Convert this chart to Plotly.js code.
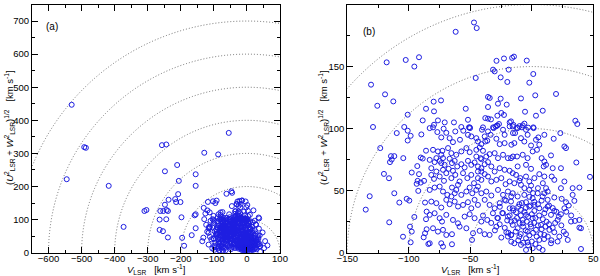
<!DOCTYPE html>
<html>
<head>
<meta charset="utf-8">
<script src="https://cdn.plot.ly/plotly-3.0.1.min.js"></script>
<style>html,body{margin:0;padding:0;background:#fff;}#chart{width:600px;height:276px;}</style>
</head>
<body>
<div id="chart"></div>
<script>
// ---- Data: V_LSR (km/s) and (U^2+W^2)^(1/2) (km/s) ----
// halo / high-velocity stars (visible in panel a)
const haloV = [-530,-492,-487,-545,-418,-373,-310,-304,-257,-244,-55,-129,-87,-211,-248,-155,-206,-155,-208,-237,-217,-214,-201,-248,-262,-253,-239,-243,-264,-244,-198,-264,-254,-239,-196,-190,-167,-158,-155,-155,62,55,52];
const haloW = [447,319,317,222,202,78,126,129,325,327,362,302,297,265,246,237,217,202,177,160,162,153,153,145,126,126,126,129,100,101,107,69,65,46,45,21,53,113,116,74,22,35,14];
// upper part of panel b (UW >= 100)
const upperV = [-118,-102.5,-91.7,-95.5,-130.7,-119.3,-125.6,-112.6,-86,-100.9,-88.7,-129.1,-103.7,
  -47,-44.8,-61.9,-28.7,-22.6,-16,-14.5,-4.1,
  -31.5,-30.2,-18.8,-25.3,-19.9,-45.6,-79.8,-73.8,-79.5,-53.7,-35.6,-34.2,-25.3,-35.6,-27.5,-20.4,-37.8,-35.6,-33.2,-28,-24.8,-22.6,-18,-16.9,-26.7,-28.3,-31.5,-29.4,-51.9,-76.3,-70.8,-63.3,-79.5,-80.3,-57.3,-51.1,-39.7,
  1.2,-2,-8.8,2.8,19.7,-5.5,3.4,8.9,35.4,37,-15,-10,-6,-12,-3,-8,1.2,-50.2];
const upperW = [153.4,155.3,157.5,150,135.4,127.6,118.4,121.9,116,111.2,106.6,101.3,101.3,
  185.5,181,178,154.6,156.5,157,158,154.8,
  147.5,146.1,147.5,141.3,137.6,140.8,121.7,122.7,113.9,116,125.5,124.7,124.1,117.4,120.1,119.3,108.5,108,107.4,110.4,112.6,111,105,105.8,103.7,102.3,101,101.7,107.1,106.6,105,105,103.1,101,101.3,101,101,
  144,137,124.3,126.8,127.9,113.6,110.4,114.4,106.3,103.7,103,102,104,100.5,100.8,101,101,100.4];
// left part of panel b (V < -84)
const leftV = [-100.9,-98.5,-109.8,-89.8,-100.9,-123.2,-114.5,-111.8,-115.3,-113.9,-104.5,-90.3,-88.7,-86,-93.1,-120.2,-116.1,-97.6,-91.7,-92.8,-90.3,-87.6,-93.6,-92.3,-111.8,-131.8,-101.7,-99.6,-107.7,-86.8,-135,-95.5,-85.5,-115.9,-86,-99,-97.6,-85.5,-86.8,-87.9,-104.7,-98.5,-84.1];
const leftW = [98.3,94.2,96.4,95.3,90.4,84.3,77.8,77.8,73,75.1,76.2,76.7,75.9,82.2,69.8,63.5,60,64.6,63.3,57.9,56.5,57.9,55.5,49.8,47.9,45.5,43.4,42,40.4,40.4,34.7,28.8,33.1,24.5,27,21,17,18.9,15.7,12.4,12.9,8.4,7];
// middle part of panel b (-84 < V < -15)
const midV = [-83.0,-76.8,-71.7,-69.5,-62.2,-55.7,-50.5,-40.5,-35.6,-31.0,-28.0,-23.4,-18.0,-49.2,-51.9,-45.1,-38.3,-33.5,-22.1,-15.3,
  -66.8,-64.1,-58.4,-73.6,-37.8,-36.2,-28.8,-26.1,-22.1,-16.6,-43.8,-41.0,
  -80.3,-76.3,-72.7,-73.6,-72.2,-68.1,-65.4,-61.4,-57.3,-53.2,-50.5,-45.1,-42.4,-39.7,-37.0,-34.3,-30.2,-27.5,-23.4,-19.4,-15.3,-41.6,-41.0,-45.1,
  -83.0,-79.0,-77.6,-74.9,-73.6,-70.9,-66.8,-64.9,-62.7,-60.6,-57.3,-54.6,-51.9,-49.2,-46.5,-43.8,-41.0,-38.3,-35.6,-32.9,-30.2,-26.1,-22.1,-18.0,-81.7,-77.6,-72.2,-67.6,-64.1,
  -81.7,-79.5,-74.9,-71.4,-69.5,-65.4,-62.2,-58.7,-55.9,-52.4,-49.2,-47.0,-43.8,-41.0,-38.3,-35.6,-32.9,-28.8,-24.8,-21.3,-18.0,-43.8,-41.0,
  -83.0,-79.0,-74.9,-72.2,-68.7,-64.9,-61.4,-60.0,-57.3,-53.2,-50.5,-48.4,-45.1,-43.8,-41.0,-37.0,-32.9,-27.5,-23.4,-19.4,-16.7,-62.7,-65.4,
  -81.7,-77.6,-73.6,-69.5,-66.8,-62.7,-60.0,-55.9,-51.9,-49.2,-46.5,-43.8,-38.3,-34.3,-30.2,-26.1,-22.1,-18.0,
  -83.0,-79.0,-74.9,-73.0,-69.5,-64.1,-60.0,-54.6,-50.5,-46.5,-39.7,-36.2,-31.6,-27.5,-23.4,-19.4,-16.7,-41.0,-26.1,
  -80.3,-76.3,-72.2,-69.5,-64.9,-58.7,-53.2,-47.8,-42.4,-38.3,-34.3,-28.8,-24.8,-20.7,-16.7,
  -83.0,-73.6,-72.2,-64.9,-48.6,-19.4,-16.7];
const midW = [100.4,97.2,99.9,96.6,97.7,98.3,101.0,99.1,97.7,100.4,102.6,99.1,101.8,93.7,95.0,92.3,93.7,95.0,95.0,96.4,
  92.3,89.1,91.0,92.9,89.6,90.2,91.8,87.5,88.3,87.0,89.6,87.5,
  82.9,81.6,82.1,78.9,76.2,84.3,80.2,78.9,81.6,84.3,81.0,82.9,84.8,82.1,77.5,79.4,80.2,76.2,78.9,76.2,77.5,76.2,75.4,77.5,
  74.8,73.0,76.2,74.0,72.2,70.8,75.7,72.2,74.0,69.5,71.3,68.7,74.0,70.8,72.7,69.5,68.1,71.3,73.0,69.5,65.4,68.1,66.8,66.0,68.1,65.4,66.8,67.6,66.0,
  62.7,59.5,61.4,57.9,64.1,60.1,62.7,57.4,64.1,60.1,62.7,56.0,60.1,58.7,63.3,61.4,57.4,58.7,60.1,55.2,57.4,65.4,65.4,
  50.6,52.5,53.3,49.3,46.6,52.5,50.6,54.7,46.6,49.3,52.5,47.9,50.6,53.3,47.9,49.3,46.1,50.6,46.6,49.3,45.3,47.9,45.3,
  41.2,39.9,36.4,42.6,39.1,41.2,37.2,38.5,40.7,35.8,42.6,38.5,42.6,38.5,35.8,39.9,42.6,35.8,
  30.5,31.8,27.8,25.1,30.5,26.4,23.7,29.1,31.0,27.8,29.9,26.4,31.8,27.8,31.8,29.1,25.1,25.1,22.9,
  19.7,17.0,18.4,14.3,14.9,21.0,19.7,15.7,17.6,14.9,14.3,21.0,12.2,16.5,14.3,
  7.6,7.6,4.9,6.8,10.3,13.0,8.9];
// right part of panel b (V > -17)
const rightV = [-15.5,-11.5,-7.4,-4.7,1.5,-13.6,-8.8,-3.4,3.4,5.3,10.2,17.8,23.2,26.5,27.8,-14.2,-6.1,-0.6,6.1,
  -16.9,-12.0,-7.4,-3.4,0.7,4.2,8.0,10.2,11.6,9.7,15.6,17.0,-11.5,-4.7,-0.6,36.2,47.3,23.7,-15.5,
  -12.8,-9.3,-4.7,-2.0,2.1,6.1,10.2,16.2,18.3,26.5,-14.2,-8.8,-0.6,11.6,12.9,23.7,33.2,38.7,
  -15.5,-11.5,-6.1,-2.0,0.7,4.8,8.8,10.2,12.9,18.3,24.3,27.8,33.2,34.6,-16.9,-10.1,-4.7,2.1,
  -15.5,-12.8,-8.8,-4.7,-2.0,2.1,6.1,10.2,12.9,15.6,18.3,23.7,26.5,31.9,35.1,38.7,40.0,38.7,21.0,-7.4,0.7,
  -15.5,-11.5,-7.4,-3.4,-0.6,3.4,7.5,10.2,14.3,18.3,22.4,27.8,29.2,-16.9,-10.1,-4.7,
  -14.2,-8.8,-3.4,0.7,6.1,15.6,21.0,40.0,8.8,-4.7];
const rightW = [101.8,100.4,102.6,99.1,100.4,96.4,92.3,95.0,91.0,92.9,95.0,91.8,96.4,85.6,84.3,88.3,89.6,86.4,87.0,
  76.2,77.5,78.9,76.2,81.6,82.9,76.2,73.5,70.8,69.5,78.4,68.1,69.5,70.8,67.6,72.7,61.1,68.1,64.1,
  62.7,60.1,61.4,57.4,60.1,63.3,61.4,61.4,58.7,57.4,56.0,54.7,54.1,52.0,49.3,52.0,52.0,52.5,
  47.9,45.3,46.6,50.6,43.9,47.9,45.3,47.9,42.6,44.5,43.4,40.7,46.6,41.8,41.2,39.1,40.7,38.5,
  35.8,32.6,34.5,30.5,37.2,33.7,35.8,31.8,37.2,30.5,33.7,31.0,35.8,25.1,25.6,26.4,19.7,20.2,26.4,26.4,27.8,
  22.4,19.7,23.7,17.0,21.0,18.4,22.4,14.3,18.4,16.5,13.0,14.9,10.3,14.3,13.0,11.6,
  7.6,6.3,8.4,3.6,10.3,7.6,9.0,3.0,2.2,2.2];
// dense core of the thin disc
const coreV = [-12,-9,-6,-3,0,3,6,9,12,-14,-10,-7,-4,-1,2,5,8,11,14,-13,-9,-5,-2,1,4,7,10,13,16,-11,-7,-3,0,3,6,
  -15,-11,-8,-5,-1,2,5,8,11,14,17,20,22,19,17,24,26,-18,-20,-22,-19,-24,-26,-21,-28,-30,-33,28,30,32,-2,1,5,-6,9,-10];
const coreW = [28,30,33,29,31,28,30,27,25,26,24,21,25,23,24,22,19,21,23,17,15,18,14,16,13,15,11,13,10,10,8,6,9,7,4,
  34,37,40,36,38,41,39,42,35,38,36,33,29,24,20,22,17,30,26,20,16,32,37,42,28,18,24,33,38,30,45,48,52,52,56,58];

// velocity circles (dotted)
const circlesA = [100,200,300,400,500,600,700];
const circlesB = [50,100,150,200];

// tick labels
const ticksAx = [-600,-500,-400,-300,-200,-100,0,100];
const ticksAy = [0,100,200,300,400,500,600,700];
const ticksBx = [-150,-100,-50,0,50];
const ticksBy = [0,50,100,150,200];

const allV = [].concat(haloV, upperV, leftV, midV, rightV, coreV);
const allW = [].concat(haloW, upperW, leftW, midW, rightW, coreW);

const FONT = 'Liberation Sans, Arial, sans-serif';
const mk = {symbol:'circle-open', size:5, color:'rgb(30,30,225)', line:{width:1, color:'rgb(30,30,225)'}};

const traces = [
  {x: allV, y: allW, xaxis:'x', yaxis:'y', type:'scatter', mode:'markers', marker: mk, hoverinfo:'skip'},
  {x: allV, y: allW, xaxis:'x2', yaxis:'y2', type:'scatter', mode:'markers', marker: mk, hoverinfo:'skip'}
];

function circleShapes(radii, xr, yr){
  return radii.map(r => ({type:'circle', xref:xr, yref:yr, x0:-r, x1:r, y0:-r, y1:r,
    line:{color:'rgb(80,80,80)', width:0.8, dash:'1px,2px'}, layer:'below'}));
}

function axis(extra){
  return Object.assign({
    ticks:'inside', ticklen:6, tickwidth:1, tickcolor:'black',
    mirror:'allticks', showline:true, linecolor:'black', linewidth:1,
    showgrid:false, zeroline:false, tickmode:'array',
    tickfont:{family:FONT, size:9.5, color:'black'},
    fixedrange:true, automargin:false
  }, extra);
}

const yDom = [1-252.7/276, 1-4.5/276];
function ann(text, px, py, extra){
  return Object.assign({text:text, xref:'paper', yref:'paper', x:px/600, y:1-py/276,
    xanchor:'center', yanchor:'middle', showarrow:false,
    font:{family:FONT, size:9.5, color:'black'}}, extra || {});
}
const xTitle = '<i>V</i><sub>LSR</sub>   [km s<sup>-1</sup>]';
const yTitle = '(<i>U</i><sup>2</sup><sub>LSR</sub> + <i>W</i><sup>2</sup><sub>LSR</sub>)<sup>1/2</sup>   [km s<sup>-1</sup>]';

const layout = {
  width:600, height:276, margin:{l:0, r:0, t:0, b:0},
  paper_bgcolor:'white', plot_bgcolor:'white', showlegend:false,
  xaxis: axis({domain:[32/600, 280/600], range:[-650,100], tickvals:ticksAx, anchor:'y', ticklabelstandoff:-3,
    minor:{ticks:'inside', dtick:50, tick0:0, ticklen:3, tickcolor:'black', showgrid:false}}),
  yaxis: axis({domain:yDom, range:[0,750], tickvals:ticksAy, anchor:'x',
    minor:{ticks:'inside', dtick:50, tick0:0, ticklen:3, tickcolor:'black', showgrid:false}}),
  xaxis2: axis({domain:[347.3/600, 593.3/600], range:[-150,50], tickvals:ticksBx, anchor:'y2', ticklabelstandoff:-3,
    minor:{ticks:'inside', dtick:25, tick0:0, ticklen:3, tickcolor:'black', showgrid:false}}),
  yaxis2: axis({domain:yDom, range:[0,200], tickvals:ticksBy, anchor:'x2',
    minor:{ticks:'inside', dtick:25, tick0:0, ticklen:3, tickcolor:'black', showgrid:false}}),
  shapes: circleShapes(circlesA, 'x', 'y').concat(circleShapes(circlesB, 'x2', 'y2')),
  annotations: [
    ann('(a)', 52, 27, {font:{family:FONT, size:10, color:'black'}}),
    ann('(b)', 369, 31.5, {font:{family:FONT, size:10, color:'black'}}),
    ann(xTitle, 156, 269.5),
    ann(xTitle, 470, 269.5),
    ann(yTitle, 9, 128, {textangle:-90}),
    ann(yTitle, 323, 128, {textangle:-90})
  ]
};

Plotly.newPlot('chart', traces, layout, {staticPlot:true, displayModeBar:false});
</script>
</body>
</html>
